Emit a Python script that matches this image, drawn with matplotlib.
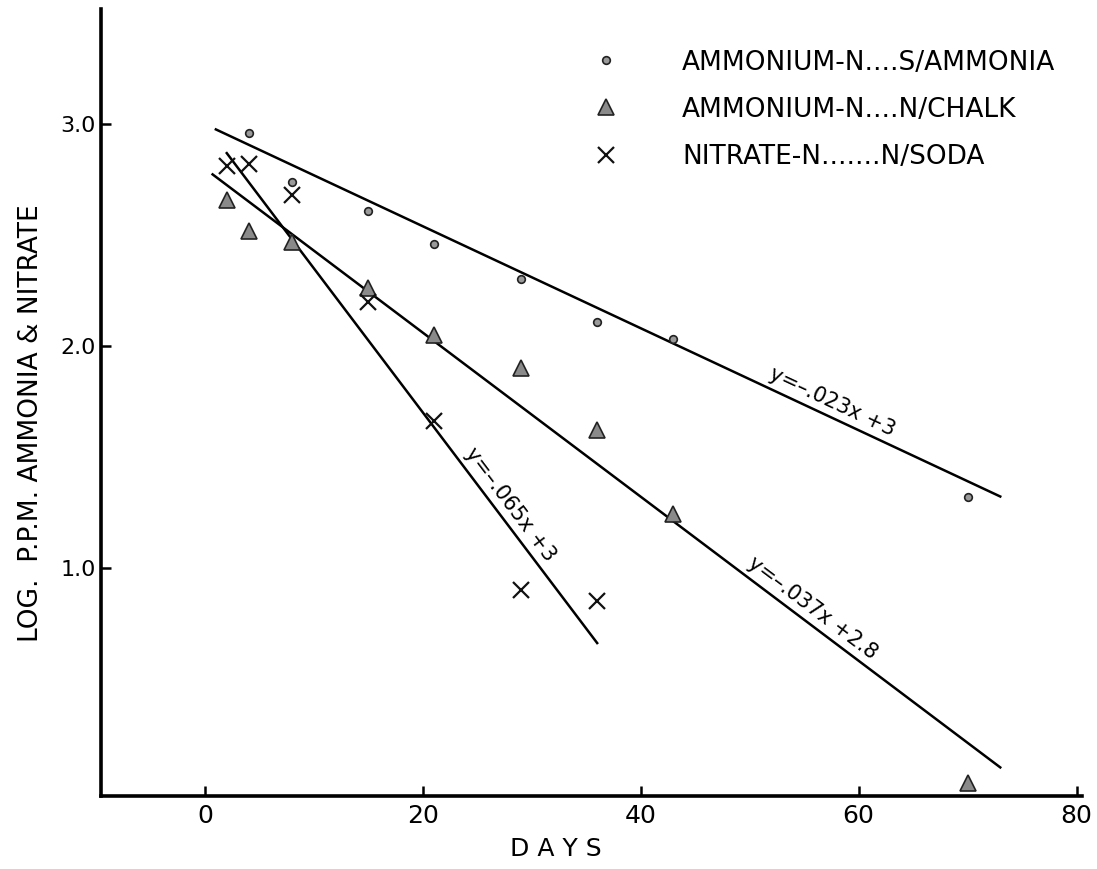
import matplotlib
matplotlib.use("Agg")
import matplotlib.pyplot as plt
import matplotlib.transforms as mtransforms
import numpy as np

# sampling days and log ppm readings
days_sa = [4, 8, 15, 21, 29, 36, 43, 70]
log_sa = [2.96, 2.74, 2.61, 2.46, 2.30, 2.11, 2.03, 1.32]

days_chalk = [2, 4, 8, 15, 21, 29, 36, 43, 70]
log_chalk = [2.66, 2.52, 2.47, 2.26, 2.05, 1.90, 1.62, 1.24, 0.03]

days_soda = [2, 4, 8, 15, 21, 29, 36]
log_soda = [2.81, 2.82, 2.68, 2.20, 1.66, 0.90, 0.85]

# fitted lines: slope, intercept, day range, label, label day
fits = [
    (-0.023, 3.0, (1.0, 73.0), "y=\u2013.023x +3", 57),
    (-0.037, 2.8, (0.7, 73.0), "y=\u2013.037x +2.8", 55),
    (-0.065, 3.0, (2.0, 36.0), "y=\u2013.065x +3", 27),
]

legend_labels = [
    "AMMONIUM-N....S/AMMONIA",
    "AMMONIUM-N....N/CHALK",
    "NITRATE-N.......N/SODA",
]

plt.rcParams["font.family"] = ["DejaVu Sans"]

fig = plt.figure(figsize=(10.97, 8.69), dpi=100)
ax = fig.add_axes([0.0925, 0.084, 0.8938, 0.9056])
ax.set_xlim(-9.5, 80.5)
ax.set_ylim(-0.03, 3.52)

for side in ("top", "right"):
    ax.spines[side].set_visible(False)
for side in ("left", "bottom"):
    ax.spines[side].set_linewidth(2.6)

ax.set_xticks([0, 20, 40, 60, 80])
ax.set_yticks([1.0, 2.0, 3.0])
ax.set_yticklabels(["1.0", "2.0", "3.0"])
ax.tick_params(axis="both", direction="in", length=7, width=1.8)
ax.tick_params(axis="x", labelsize=18, pad=6)
ax.tick_params(axis="y", labelsize=16, pad=4)

ax.set_xlabel("D A Y S", fontsize=18)
ax.xaxis.set_label_coords(0.4636, -0.052)
ax.set_ylabel("LOG.  P.P.M. AMMONIA & NITRATE", fontsize=19)
ax.yaxis.set_label_coords(-0.0586, 0.474)

# regression lines
for slope, icpt, (d0, d1), text, dlab in fits:
    xs = np.array([d0, d1])
    ax.plot(xs, slope * xs + icpt, color="black", lw=1.8, zorder=2)

# data points
h1, = ax.plot(days_sa, log_sa, "o", ms=5.5, mfc="#9a9a9a", mec="#222222",
              mew=1.2, ls="none", zorder=3, label=legend_labels[0])
h2, = ax.plot(days_chalk, log_chalk, "^", ms=11, mfc="#8a8a8a", mec="#222222",
              mew=1.2, ls="none", zorder=3, label=legend_labels[1])
h3, = ax.plot(days_soda, log_soda, "x", ms=12, color="#111111",
              mew=1.6, ls="none", zorder=3, label=legend_labels[2])

# equation labels along each line
fig.canvas.draw()
for slope, icpt, (d0, d1), text, dlab in fits:
    p0 = ax.transData.transform((d0, slope * d0 + icpt))
    p1 = ax.transData.transform((d1, slope * d1 + icpt))
    ang = np.degrees(np.arctan2(p1[1] - p0[1], p1[0] - p0[0]))
    th = np.radians(ang)
    off = mtransforms.offset_copy(ax.transData, fig=fig,
                                  x=-3 * np.sin(th), y=3 * np.cos(th),
                                  units="points")
    ax.text(dlab, slope * dlab + icpt, text, fontsize=15, rotation=ang,
            rotation_mode="anchor", ha="center", va="bottom", transform=off)

ax.legend(handles=[h1, h2, h3], loc="upper left", frameon=False,
          bbox_to_anchor=(0.54, 0.943), bbox_transform=fig.transFigure,
          fontsize=19, handlelength=1.0, handletextpad=2.4,
          labelspacing=0.8, borderpad=0, borderaxespad=0)

fig.savefig("out.png", dpi=100)
